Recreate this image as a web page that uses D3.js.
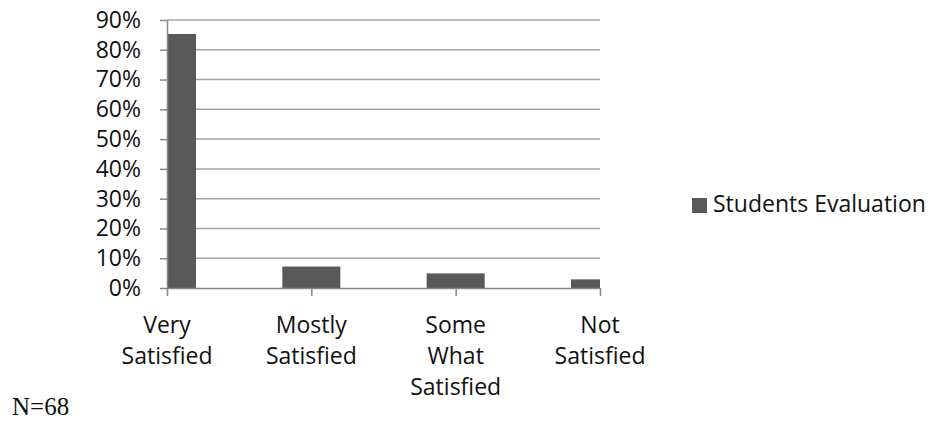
<!DOCTYPE html>
<html lang="en">
<head>
<meta charset="UTF-8">
<title>Students Evaluation</title>
<script src="https://d3js.org/d3.v7.min.js"></script>
<style>
  body { margin: 0; background: #fff; }
  text { font-family: "Open Sans", "Noto Sans", sans-serif; fill: #111; }
</style>
</head>
<body>
<div id="chart"></div>
<script>
// data (N=68)
var categories = [["Very", "Satisfied"], ["Mostly", "Satisfied"], ["Some", "What", "Satisfied"], ["Not", "Satisfied"]];
var values = [0.853, 0.072, 0.049, 0.029];
var yTicks = [0, 0.1, 0.2, 0.3, 0.4, 0.5, 0.6, 0.7, 0.8, 0.9];
var seriesName = "Students Evaluation";
var note = "N=68";

var W = 929, H = 421;
var plotLeft = 167, plotRight = 600, plotTop = 20, plotBottom = 288;
var fontSize = "23px";

var svg = d3.select("#chart").append("svg")
    .attr("width", W).attr("height", H);

var x = d3.scalePoint()
    .domain(d3.range(categories.length))
    .range([plotLeft, plotRight]);

var y = d3.scaleLinear()
    .domain([0, 0.9])
    .range([plotBottom, plotTop]);

// clip so the end bars are cut at the axis, like the original
svg.append("clipPath").attr("id", "plot")
   .append("rect")
   .attr("x", plotLeft).attr("y", plotTop)
   .attr("width", plotRight - plotLeft).attr("height", plotBottom - plotTop);

// gridlines
svg.append("g")
   .selectAll("line")
   .data(yTicks.slice(1))
   .enter().append("line")
   .attr("x1", plotLeft).attr("x2", plotRight)
   .attr("y1", d => y(d)).attr("y2", d => y(d))
   .attr("stroke", "#a6a6a6").attr("stroke-width", 1.5);

// bars
var barW = 58;
svg.append("g")
   .attr("clip-path", "url(#plot)")
   .selectAll("rect")
   .data(values)
   .enter().append("rect")
   .attr("x", (d, i) => x(i) - barW / 2)
   .attr("y", d => y(d))
   .attr("width", barW)
   .attr("height", d => plotBottom - y(d))
   .attr("fill", "#595959");

// y axis
var yAxis = d3.axisLeft(y)
    .tickValues(yTicks)
    .tickFormat(d3.format(".0%"))
    .tickSize(7)
    .tickSizeOuter(0)
    .tickPadding(19);

var gy = svg.append("g")
   .attr("transform", "translate(" + plotLeft + ",0)")
   .call(yAxis);
gy.select(".domain").attr("stroke", "#868686").attr("stroke-width", 1.5);
gy.selectAll(".tick line").attr("stroke", "#868686").attr("stroke-width", 1.5);
gy.selectAll(".tick text")
  .style("font-family", "'Open Sans', sans-serif")
  .style("font-size", fontSize)
  .attr("fill", "#111");

// x axis
var xAxis = d3.axisBottom(x)
    .tickSize(8)
    .tickSizeOuter(0)
    .tickFormat("");

var gx = svg.append("g")
   .attr("transform", "translate(0," + plotBottom + ")")
   .call(xAxis);
gx.select(".domain").attr("stroke", "#868686").attr("stroke-width", 1.5);
gx.selectAll(".tick line").attr("stroke", "#868686").attr("stroke-width", 1.5);

// multi-line category labels
var labels = svg.append("g")
   .selectAll("text")
   .data(categories)
   .enter().append("text")
   .attr("text-anchor", "middle")
   .style("font-size", fontSize)
   .attr("transform", (d, i) => "translate(" + x(i) + ",333)");

labels.selectAll("tspan")
   .data(d => d)
   .enter().append("tspan")
   .attr("x", 0)
   .attr("y", (d, j) => j * 31)
   .text(d => d);

// legend
var legend = svg.append("g").attr("transform", "translate(692,198)");
legend.append("rect")
   .attr("width", 15).attr("height", 15)
   .attr("fill", "#595959");
legend.append("text")
   .attr("x", 21).attr("y", 14)
   .style("font-size", fontSize)
   .text(seriesName);

// sample size note
svg.append("text")
   .attr("x", 12).attr("y", 415)
   .style("font-family", "'Liberation Serif', 'DejaVu Serif', serif")
   .style("font-size", "25px")
   .text(note);
</script>
</body>
</html>
